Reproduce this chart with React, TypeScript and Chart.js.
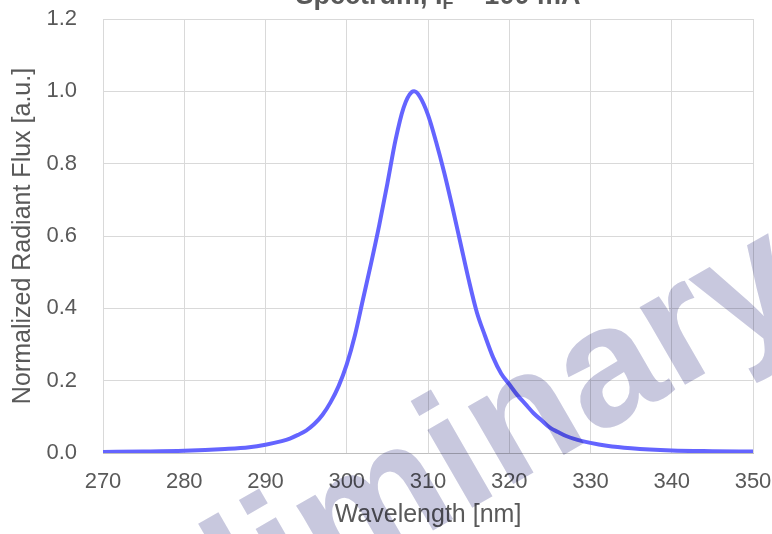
import React, { useEffect, useRef } from "react";
import { Chart, registerables } from "chart.js";

Chart.register(...registerables);

// ---- data ----
const wavelengths = [
  270, 275, 280, 285, 288, 290, 292, 293, 294, 295, 296, 297, 298, 299, 300, 301,
  302, 303, 304, 305, 306, 307, 308, 308.3, 309, 310, 311, 312, 313, 314, 315, 316,
  317, 318, 319, 320, 321, 322, 323, 324, 325, 326, 327, 328, 330, 332, 335, 340,
  345, 350,
];
const flux = [
  0.003, 0.004, 0.006, 0.011, 0.016, 0.023, 0.033, 0.04, 0.05, 0.062, 0.08, 0.105,
  0.14, 0.185, 0.245, 0.325, 0.425, 0.525, 0.63, 0.745, 0.865, 0.955, 0.998, 1.0,
  0.985, 0.935, 0.86, 0.775, 0.68, 0.58, 0.48, 0.39, 0.325, 0.265, 0.22, 0.19, 0.16,
  0.135, 0.11, 0.09, 0.07, 0.058, 0.047, 0.039, 0.028, 0.02, 0.013, 0.007, 0.005,
  0.004,
];
const xTickValues = [270, 280, 290, 300, 310, 320, 330, 340, 350];
const yTickValues = [0, 0.2, 0.4, 0.6, 0.8, 1.0, 1.2];

const titleMain = "Spectrum, I";
const titleSub = "F";
const titleRest = " = 100 mA";
const xTitle = "Wavelength [nm]";
const yTitle = "Normalized Radiant Flux [a.u.]";
const watermark = "Preliminary";

const FONT = '"Liberation Sans", Arial, sans-serif';
const TEXT = "#595959";
const GRID = "#d9d9d9";

export default function App() {
  const ref = useRef<HTMLCanvasElement | null>(null);

  useEffect(() => {
    if (!ref.current) return;

    const titlePlugin = {
      id: "cutTitle",
      afterDraw(chart: any) {
        const ctx = chart.ctx as CanvasRenderingContext2D;
        ctx.save();
        ctx.fillStyle = TEXT;
        ctx.textBaseline = "alphabetic";
        ctx.textAlign = "left";
        const big = `bold 27px ${FONT}`;
        const small = `bold 18px ${FONT}`;
        ctx.font = big;
        const w1 = ctx.measureText(titleMain).width;
        const w3 = ctx.measureText(titleRest).width;
        ctx.font = small;
        const w2 = ctx.measureText(titleSub).width;
        const total = w1 + w2 + w3;
        const cx = 438;
        const base = 4;
        let x = cx - total / 2;
        ctx.font = big;
        ctx.fillText(titleMain, x, base);
        x += w1;
        ctx.font = small;
        ctx.fillText(titleSub, x, base + 5);
        x += w2;
        ctx.font = big;
        ctx.fillText(titleRest, x, base);
        ctx.restore();
      },
    };

    const watermarkPlugin = {
      id: "watermark",
      afterDraw(chart: any) {
        const ctx = chart.ctx as CanvasRenderingContext2D;
        ctx.save();
        ctx.globalCompositeOperation = "multiply";
        ctx.fillStyle = "rgb(200,200,222)";
        ctx.font = `bold 170px ${FONT}`;
        ctx.translate(413, 542);
        ctx.rotate((-30 * Math.PI) / 180);
        ctx.textAlign = "center";
        ctx.textBaseline = "alphabetic";
        ctx.fillText(watermark, 0, 0);
        ctx.restore();
      },
    };

    const chart = new Chart(ref.current, {
      type: "line",
      data: {
        datasets: [
          {
            data: wavelengths.map((w, i) => ({ x: w, y: flux[i] })),
            borderColor: "rgb(100,100,255)",
            borderWidth: 4,
            pointRadius: 0,
            fill: false,
            cubicInterpolationMode: "monotone",
          },
        ],
      },
      options: {
        animation: false,
        responsive: false,
        devicePixelRatio: 1,
        layout: { padding: { left: 0, top: 19, right: 19, bottom: 0 } },
        plugins: {
          legend: { display: false },
          title: { display: false },
          tooltip: { enabled: false },
        },
        scales: {
          x: {
            type: "linear",
            min: 270,
            max: 350,
            afterBuildTicks(scale: any) {
              scale.ticks = xTickValues.map((v) => ({ value: v }));
            },
            afterFit(scale: any) {
              scale.height = 81;
              scale.paddingLeft = 0;
              scale.paddingRight = 0;
            },
            grid: { color: GRID, lineWidth: 1, drawTicks: false },
            border: { display: true, color: "#bfbfbf", width: 1 },
            ticks: {
              padding: 16,
              color: TEXT,
              font: { family: FONT, size: 22 },
              maxRotation: 0,
              autoSkip: false,
              callback: (v: any) => String(v),
            },
            title: {
              display: true,
              text: xTitle,
              color: TEXT,
              font: { family: FONT, size: 25 },
              padding: { top: 0, bottom: 4 },
            },
          },
          y: {
            type: "linear",
            min: 0,
            max: 1.2,
            afterBuildTicks(scale: any) {
              scale.ticks = yTickValues.map((v) => ({ value: v }));
            },
            afterFit(scale: any) {
              scale.width = 103;
              scale.paddingTop = 0;
              scale.paddingBottom = 0;
            },
            grid: { color: GRID, lineWidth: 1, drawTicks: false },
            border: { display: false },
            ticks: {
              padding: 26,
              color: TEXT,
              font: { family: FONT, size: 22 },
              autoSkip: false,
              callback: (v: any) => Number(v).toFixed(1),
            },
            title: {
              display: true,
              text: yTitle,
              color: TEXT,
              font: { family: FONT, size: 25 },
              padding: { top: 8, bottom: 0 },
            },
          },
        },
      },
      plugins: [titlePlugin, watermarkPlugin],
    } as any);

    return () => chart.destroy();
  }, []);

  return (
    <div style={{ position: "absolute", left: 0, top: 0, width: 772, height: 534, background: "#fff" }}>
      <canvas ref={ref} width={772} height={534} style={{ display: "block", width: 772, height: 534 }} />
    </div>
  );
}
